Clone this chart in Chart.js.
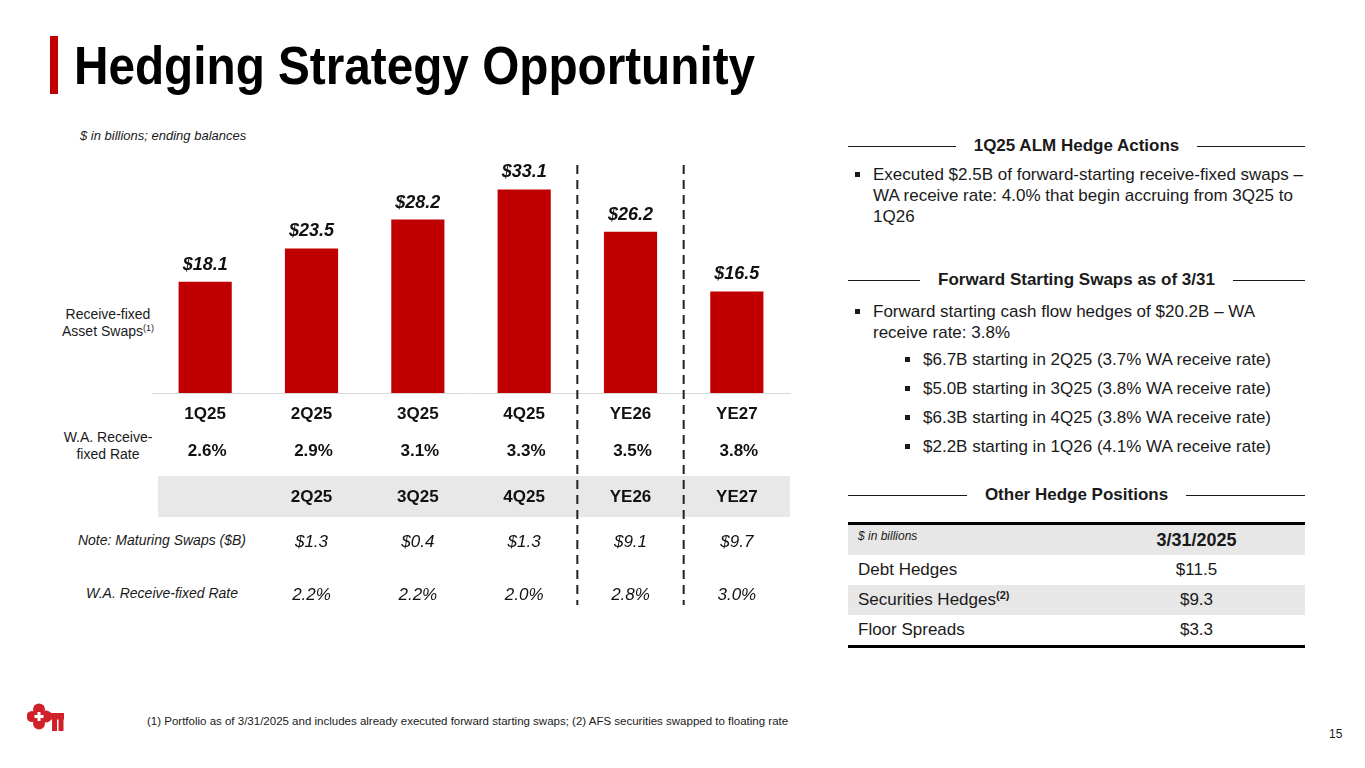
<!DOCTYPE html>
<html>
<head>
<meta charset="utf-8">
<title>Hedging Strategy Opportunity</title>
<script src="https://cdn.jsdelivr.net/npm/chart.js@4/dist/chart.umd.min.js"></script>
<style>
  body { margin: 0; background: #fff; font-family: "Liberation Sans", Arial, sans-serif; color: #1a1a1a; }
  .slide { position: relative; width: 1365px; height: 768px; overflow: hidden; }
  .abs { position: absolute; white-space: nowrap; }
  .title-bar { left: 50px; top: 36px; width: 8px; height: 58px; background: #c00000; }
  .title { left: 74px; top: 35px; font-weight: bold; font-size: 53px; color: #000; transform: scaleX(0.9); transform-origin: left top; }
  .units { left: 80px; top: 128px; font-size: 13px; font-style: italic; color: #1a1a1a; }
  .rowlab { font-size: 14px; text-align: center; line-height: 17px; color: #1a1a1a; }
  .rowlab sup { font-size: 9px; line-height: 0; vertical-align: 0; position: relative; top: -5px; }
  .hdr { position: absolute; left: 848px; width: 457px; display: flex; align-items: center; font-weight: bold; font-size: 17px; color: #1a1a1a; }
  .hdr .ln { flex: 1; height: 1px; background: #1a1a1a; }
  .hdr span { padding: 0 18px; }
  .bul { position: absolute; font-size: 17px; line-height: 21px; color: #1a1a1a; white-space: nowrap; }
  .bul::before { content: ""; position: absolute; left: -18px; top: 8px; width: 5px; height: 5px; background: #1a1a1a; }
  table.hedge { position: absolute; left: 848px; top: 522px; width: 457px; border-collapse: collapse; font-size: 17px; color: #1a1a1a; border-top: 3px solid #000; border-bottom: 3px solid #000; }
  table.hedge td { height: 30px; padding: 0; line-height: 20px; }
  table.hedge td.nm { padding-left: 10px; width: 230px; }
  table.hedge td.vl { text-align: center; }
  table.hedge tr.g { background: #e7e7e7; }
  table.hedge sup { font-size: 11px; font-weight: bold; line-height: 0; vertical-align: 0; position: relative; top: -6px; }
  .foot { left: 147px; top: 715px; font-size: 11.5px; color: #1a1a1a; }
  .page { left: 1329px; top: 727px; font-size: 12px; color: #1a1a1a; }
  #chartBox { position: absolute; left: 40px; top: 125px; width: 760px; height: 490px; }
</style>
</head>
<body>
<div class="slide">
  <div class="abs title-bar"></div>
  <div class="abs title">Hedging Strategy Opportunity</div>
  <div class="abs units">$ in billions; ending balances</div>

  <div class="abs rowlab" style="left:58px; top:306px; width:100px;">Receive-fixed<br>Asset Swaps<sup>(1)</sup></div>
  <div class="abs rowlab" style="left:58px; top:429px; width:100px;">W.A. Receive-<br>fixed Rate</div>
  <div class="abs rowlab" style="left:62px; top:532px; width:200px; font-style:italic;">Note: Maturing Swaps ($B)</div>
  <div class="abs rowlab" style="left:62px; top:585px; width:200px; font-style:italic;">W.A. Receive-fixed Rate</div>

  <div id="chartBox"><canvas id="swapChart" width="760" height="490"></canvas></div>

  <div class="hdr" style="top:136px;"><div class="ln"></div><span>1Q25 ALM Hedge Actions</span><div class="ln"></div></div>
  <div class="bul" style="left:873px; top:164px;">Executed $2.5B of forward-starting receive-fixed swaps –<br>WA receive rate: 4.0% that begin accruing from 3Q25 to<br>1Q26</div>

  <div class="hdr" style="top:270px;"><div class="ln"></div><span>Forward Starting Swaps as of 3/31</span><div class="ln"></div></div>
  <div class="bul" style="left:873px; top:301px;">Forward starting cash flow hedges of $20.2B – WA<br>receive rate: 3.8%</div>
  <div class="bul" style="left:923px; top:349px;">$6.7B starting in 2Q25 (3.7% WA receive rate)</div>
  <div class="bul" style="left:923px; top:378px;">$5.0B starting in 3Q25 (3.8% WA receive rate)</div>
  <div class="bul" style="left:923px; top:407px;">$6.3B starting in 4Q25 (3.8% WA receive rate)</div>
  <div class="bul" style="left:923px; top:436px;">$2.2B starting in 1Q26 (4.1% WA receive rate)</div>

  <div class="hdr" style="top:485px;"><div class="ln"></div><span>Other Hedge Positions</span><div class="ln"></div></div>
  <table class="hedge" id="hedgeTable"></table>

  <svg class="abs" style="left:27px; top:702px;" width="40" height="32" viewBox="0 0 40 32">
    <g fill="#d0202a">
      <circle cx="12" cy="7.5" r="6"/>
      <circle cx="12" cy="21.5" r="6"/>
      <circle cx="5" cy="14.5" r="5.5"/>
      <circle cx="19" cy="14.5" r="6"/>
      <rect x="20" y="11" width="17" height="6.5"/>
      <rect x="25" y="16" width="5" height="13"/>
      <rect x="31.5" y="16" width="5" height="13"/>
    </g>
    <rect x="10.5" y="10" width="3" height="9" fill="#fff"/>
    <rect x="7.5" y="13" width="9" height="3" fill="#fff"/>
  </svg>
  <div class="abs foot">(1) Portfolio as of 3/31/2025 and includes already executed forward starting swaps; (2) AFS securities swapped to floating rate</div>
  <div class="abs page">15</div>
</div>

<script>
// ------------------ Chart Data ------------------
const categories = ["1Q25", "2Q25", "3Q25", "4Q25", "YE26", "YE27"];
const swapBalances = [18.1, 23.5, 28.2, 33.1, 26.2, 16.5]; // $B, receive-fixed asset swaps
const receiveRates = [2.6, 2.9, 3.1, 3.3, 3.5, 3.8]; // W.A. receive-fixed rate, %

const maturingPeriods = ["2Q25", "3Q25", "4Q25", "YE26", "YE27"];
const maturingSwaps = [1.3, 0.4, 1.3, 9.1, 9.7]; // $B
const maturingRates = [2.2, 2.2, 2.0, 2.8, 3.0]; // %

const hedgeNames = ["Debt Hedges", "Securities Hedges", "Floor Spreads"];
const hedgeValues = [11.5, 9.3, 3.3];

const BAR_RED = "#c00000";
const FONT = "'Liberation Sans', Arial, sans-serif";

// ------------------ Other Hedge Positions Table ------------------
const hedgeTable = document.querySelector("#hedgeTable");
let rows = `<tr class="g"><td class="nm" style="font-size:12px; font-style:italic; vertical-align:top; line-height:14px; padding-top:4px; height:26px;">$ in billions</td><td class="vl" style="font-weight:bold; font-size:18px;">3/31/2025</td></tr>`;
for (let i = 0; i < hedgeNames.length; i++) {
    const sup = hedgeNames[i] === "Securities Hedges" ? "<sup>(2)</sup>" : "";
    rows += `<tr class="${i % 2 === 1 ? "g" : ""}"><td class="nm">${hedgeNames[i]}${sup}</td><td class="vl">$${hedgeValues[i].toFixed(1)}</td></tr>`;
}
hedgeTable.innerHTML = rows;

// ------------------ Plugin For Labels, Rate Rows And Dividers ------------------
const tableRowsPlugin = {
    id: "tableRows",
    afterDatasetsDraw(chart) {
        const ctx = chart.ctx;
        const area = chart.chartArea;
        const x = chart.scales.x;
        const meta = chart.getDatasetMeta(0);
        ctx.save();
        ctx.textAlign = "center";
        ctx.textBaseline = "middle";

        // value labels above bars
        ctx.fillStyle = "#111";
        ctx.font = "italic bold 18px " + FONT;
        meta.data.forEach((bar, i) => {
            ctx.fillText("$" + swapBalances[i].toFixed(1), bar.x, bar.y - 17);
        });

        // W.A. receive-fixed rate row
        ctx.font = "bold 17px " + FONT;
        receiveRates.forEach((r, i) => {
            ctx.fillText(r.toFixed(1) + "%", x.getPixelForValue(i) + 2, area.bottom + 58);
        });

        // grey header band for maturing swaps
        ctx.fillStyle = "#e8e8e8";
        ctx.fillRect(area.left + 6, area.bottom + 83, area.right - area.left - 6, 41);
        ctx.fillStyle = "#111";
        ctx.font = "bold 17px " + FONT;
        maturingPeriods.forEach((p, i) => {
            ctx.fillText(p, x.getPixelForValue(i + 1), area.bottom + 104);
        });

        // maturing swaps and their rates
        ctx.font = "italic 17px " + FONT;
        maturingSwaps.forEach((v, i) => {
            ctx.fillText("$" + v.toFixed(1), x.getPixelForValue(i + 1), area.bottom + 149);
        });
        maturingRates.forEach((v, i) => {
            ctx.fillText(v.toFixed(1) + "%", x.getPixelForValue(i + 1), area.bottom + 202);
        });

        // dashed dividers before YE26 and YE27
        ctx.strokeStyle = "#222";
        ctx.lineWidth = 2;
        ctx.setLineDash([9, 6]);
        [4, 5].forEach((idx) => {
            const xp = (x.getPixelForValue(idx - 1) + x.getPixelForValue(idx)) / 2;
            ctx.beginPath();
            ctx.moveTo(xp, area.top + 18);
            ctx.lineTo(xp, area.bottom + 212);
            ctx.stroke();
        });
        ctx.restore();
    }
};

// ------------------ Bar Chart ------------------
const ctx = document.querySelector("#swapChart").getContext("2d");
const swapChart = new Chart(ctx, {
    type: "bar",
    data: {
        labels: categories,
        datasets: [{
            label: "Receive-fixed Asset Swaps",
            data: swapBalances,
            backgroundColor: BAR_RED,
            borderWidth: 0,
            barPercentage: 0.5,
            categoryPercentage: 1.0,
        }],
    },
    options: {
        responsive: false,
        animation: false,
        layout: { padding: { left: 112, right: 10, top: 22, bottom: 0 } },
        plugins: {
            legend: { display: false },
            tooltip: { enabled: false },
        },
        scales: {
            x: {
                grid: { display: false, drawTicks: false },
                border: { display: true, color: "#d9d9d9", width: 1 },
                ticks: { color: "#111", padding: 11, font: { family: FONT, size: 17, weight: "bold" } },
                afterFit: (scale) => { scale.height = 222; },
            },
            y: { display: false, min: 0, max: 40 },
        },
    },
    plugins: [tableRowsPlugin],
});
</script>
</body>
</html>
